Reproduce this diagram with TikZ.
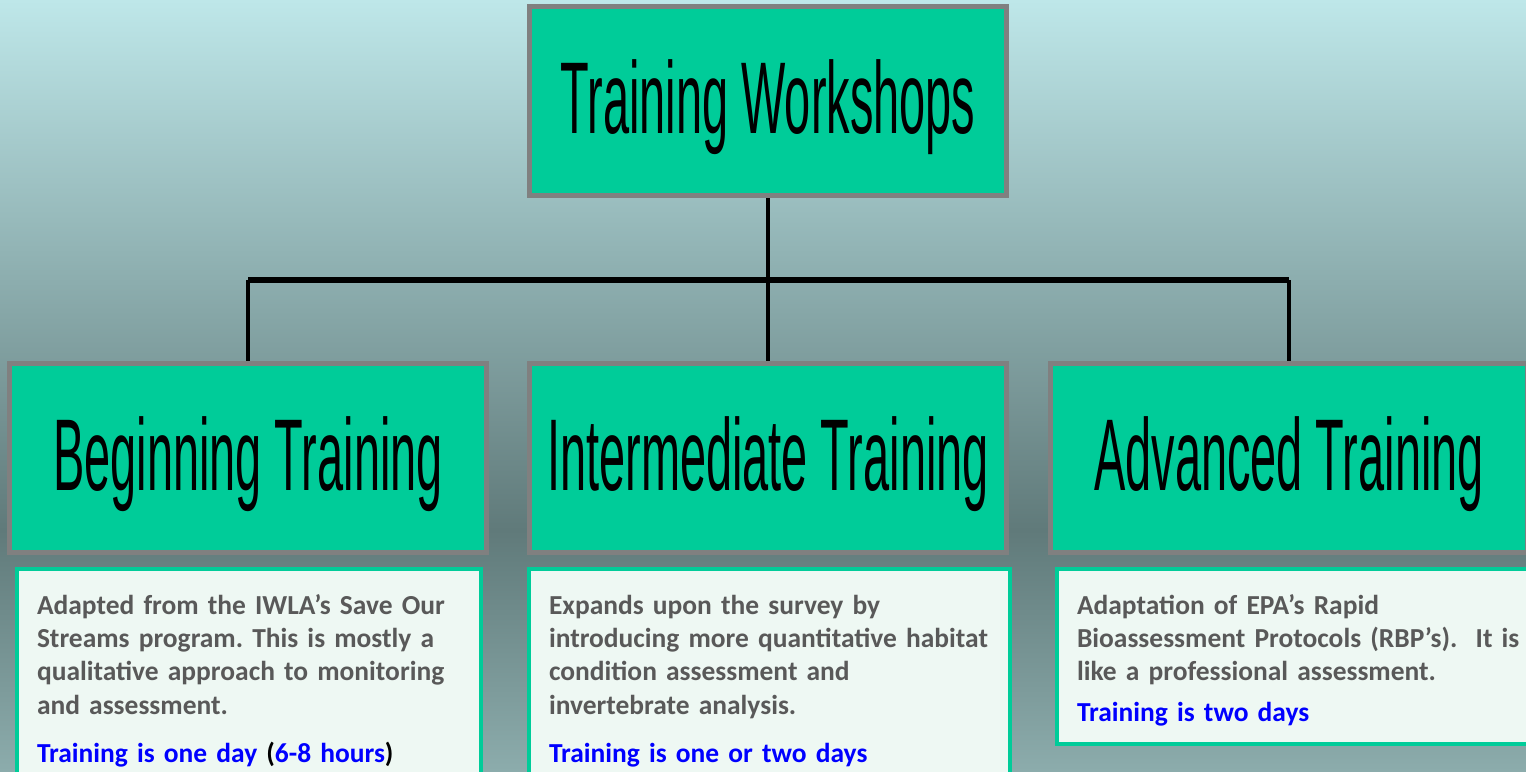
\documentclass[tikz,border=0pt]{standalone}
\usepackage{fontspec}
\usepackage{xcolor}
\newfontfamily\narrowfont[FakeStretch=0.46]{Liberation Sans}
\newfontfamily\notefont{Carlito}
\definecolor{boxgreen}{RGB}{0,204,153}
\definecolor{boxgray}{RGB}{128,128,128}
\definecolor{notefill}{RGB}{238,248,243}
\definecolor{notetext}{RGB}{89,89,89}
\definecolor{skytop}{RGB}{190,231,233}
\definecolor{skymid}{RGB}{96,122,122}
\definecolor{skybot}{RGB}{140,172,172}
\newcommand\firstline{\rule{0pt}{24.25pt}}
\tikzset{
    titlebox/.style={fill=boxgreen, draw=boxgray, line width=3.75pt, minimum width=357.75pt, minimum height=141.75pt, inner sep=0pt, font=\narrowfont\fontsize{76.5}{80}\selectfont, text height=64.5pt, text depth=16.5pt},
    notebox/.style={anchor=north west, fill=notefill, draw=boxgreen, line width=3pt, inner xsep=15pt, inner ysep=9.5pt, align=left, text=notetext, font=\notefont\bfseries\fontsize{20.6}{25}\selectfont\frenchspacing},
    trunk/.style={line width=4.9pt},
    stem/.style={line width=2.6pt}
}

\begin{document}
\begin{tikzpicture}[x=0.75pt, y=-0.75pt]
    \useasboundingbox (0,0) rectangle (1526,771);
    \clip (0,0) rectangle (1526,771);
    % background
    \shade[top color=skytop, bottom color=skymid] (0,0) rectangle (1526,530);
    \shade[top color=skymid, bottom color=skybot] (0,530) rectangle (1526,771);

    \node[titlebox] (top) at (768,101) {Training Workshops};
    \node[titlebox] (beg) at (248,458) {Beginning Training};
    \node[titlebox] (mid) at (768,458) {Intermediate Training};
    \node[titlebox] (adv) at (1289,458) {Advanced Training};

    \coordinate (bar) at (768,280);
    \draw[stem] (top) -- (mid);
    \draw[trunk] (beg |- bar) -- (adv |- bar);
    \draw[stem] (beg |- bar) -- (beg);
    \draw[stem] (adv |- bar) -- (adv);

    \node[notebox, text width=318pt] (begnote) at (15,567) {\firstline Adapted from the IWLA’s Save Our\\
        Streams program. This is mostly a\\
        qualitative approach to monitoring\\
        and assessment.\\[11.6pt]
        \textcolor{blue}{Training is one day} \textcolor{black}{(}\textcolor{blue}{6-8 hours}\textcolor{black}{)}\strut};
    \node[notebox, text width=330.75pt] (midnote) at (527,567) {\firstline Expands upon the survey by\\
        introducing more quantitative habitat\\
        condition assessment and\\
        invertebrate analysis.\\[11.6pt]
        \textcolor{blue}{Training is one or two days}\strut};
    \node[notebox, text width=334.5pt] (advnote) at (1055,567) {\firstline Adaptation of EPA’s Rapid\\
        Bioassessment Protocols (RBP’s).\ \ It is\\
        like a professional assessment.\\[5.6pt]
        \textcolor{blue}{Training is two days}\strut};
\end{tikzpicture}
\end{document}
